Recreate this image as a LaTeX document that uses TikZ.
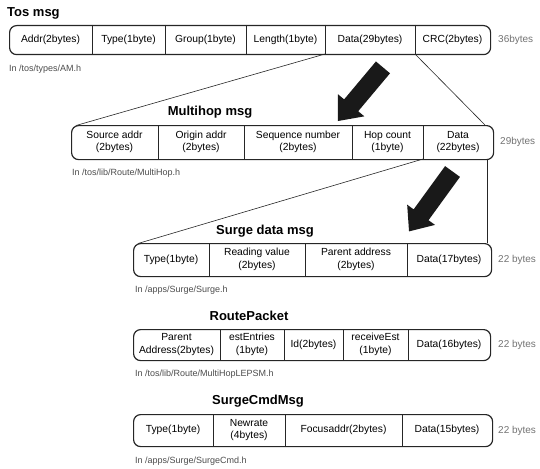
\documentclass[tikz,border=0pt]{standalone}
\usepackage{fontspec}
\setmainfont{Liberation Sans}
\usetikzlibrary{shapes.arrows}
\begin{document}
\begin{tikzpicture}[x=1pt,y=-1pt,
  rowbox/.style={draw=black!85, line width=1.2pt, rounded corners=7pt, inner sep=0pt, anchor=north west},
  cell/.style={font=\fontsize{10.3}{12.5}\selectfont, align=center, inner sep=0pt},
  ttl/.style={font=\bfseries\fontsize{13}{15}\selectfont, inner sep=0pt},
  src/.style={font=\fontsize{9}{10}\selectfont, text=black!70, anchor=west, inner sep=0pt},
  size/.style={font=\fontsize{10}{11}\selectfont, text=black!55, anchor=west, inner sep=0pt},
  divl/.style={draw=black!85, line width=0.8pt},
  conn/.style={draw=black!85, line width=0.6pt},
  bigarrow/.style={single arrow, fill=black!90, inner sep=9pt, single arrow head extend=8pt, single arrow tip angle=80, minimum height=70pt}
]
\path[use as bounding box] (0,0) rectangle (540,468);

% ---------------- Tos msg ----------------
\node[ttl, anchor=west] (tostitle) at (7,13) {Tos msg};
\node[rowbox, minimum width=481pt, minimum height=29pt] (tos) at (9,25) {};
\foreach \x in {92,165,246,325,415} \draw[divl] (\x,25) -- (\x,54);
\node[cell] (tos1) at (50.5,39.5) {Addr(2bytes)};
\node[cell] (tos2) at (128.5,39.5) {Type(1byte)};
\node[cell] (tos3) at (205.5,39.5) {Group(1byte)};
\node[cell] (tos4) at (285.5,39.5) {Length(1byte)};
\node[cell] (tos5) at (370,39.5) {Data(29bytes)};
\node[cell] (tos6) at (452.5,39.5) {CRC(2bytes)};
\node[size] (tossize) at (498,40) {36bytes};
\node[src] (tossrc) at (9,69) {In /tos/types/AM.h};

% ---------------- Multihop msg ----------------
\node[ttl] (mhtitle) at (210,112) {Multihop msg};
\node[rowbox, minimum width=422pt, minimum height=34pt] (mh) at (71,125) {};
\foreach \x in {158,244,352,423} \draw[divl] (\x,125) -- (\x,159);
\node[cell] (mh1) at (114.5,142) {Source addr\\(2bytes)};
\node[cell] (mh2) at (201,142) {Origin addr\\(2bytes)};
\node[cell] (mh3) at (298,142) {Sequence number\\(2bytes)};
\node[cell] (mh4) at (387.5,142) {Hop count\\(1byte)};
\node[cell] (mh5) at (458,142) {Data\\(22bytes)};
\node[size] (mhsize) at (500,142) {29bytes};
\node[src] (mhsrc) at (72,173) {In /tos/lib/Route/MultiHop.h};

% ---------------- Surge data msg ----------------
\node[ttl] (sgtitle) at (265,231) {Surge data msg};
\node[rowbox, minimum width=358pt, minimum height=33pt] (sg) at (133,243) {};
\foreach \x in {209,305,407} \draw[divl] (\x,243) -- (\x,276);
\node[cell] (sg1) at (171,259.5) {Type(1byte)};
\node[cell] (sg2) at (257,259.5) {Reading value\\(2bytes)};
\node[cell] (sg3) at (356,259.5) {Parent address\\(2bytes)};
\node[cell] (sg4) at (449,259.5) {Data(17bytes)};
\node[size] (sgsize) at (498,260) {22 bytes};
\node[src] (sgsrc) at (135,290) {In /apps/Surge/Surge.h};

% ---------------- RoutePacket ----------------
\node[ttl] (rptitle) at (249,316) {RoutePacket};
\node[rowbox, minimum width=357pt, minimum height=31pt] (rp) at (133,329) {};
\foreach \x in {220,284,343,408} \draw[divl] (\x,329) -- (\x,360);
\node[cell] (rp1) at (176.5,344.5) {Parent\\Address(2bytes)};
\node[cell] (rp2) at (252,344.5) {estEntries\\(1byte)};
\node[cell] (rp3) at (313.5,344.5) {Id(2bytes)};
\node[cell] (rp4) at (375.5,344.5) {receiveEst\\(1byte)};
\node[cell] (rp5) at (449,344.5) {Data(16bytes)};
\node[size] (rpsize) at (498,345) {22 bytes};
\node[src] (rpsrc) at (135,374) {In /tos/lib/Route/MultiHopLEPSM.h};

% ---------------- SurgeCmdMsg ----------------
\node[ttl] (cmtitle) at (258,401) {SurgeCmdMsg};
\node[rowbox, minimum width=359pt, minimum height=32pt] (cm) at (133,414) {};
\foreach \x in {213,285,402} \draw[divl] (\x,414) -- (\x,446);
\node[cell] (cm1) at (173,430) {Type(1byte)};
\node[cell] (cm2) at (249,430) {Newrate\\(4bytes)};
\node[cell] (cm3) at (343.5,430) {Focusaddr(2bytes)};
\node[cell] (cm4) at (447,430) {Data(15bytes)};
\node[size] (cmsize) at (498,431) {22 bytes};
\node[src] (cmsrc) at (135,461) {In /apps/Surge/SurgeCmd.h};

% ---------------- connectors ----------------
\coordinate (tosL) at (325,54);
\coordinate (tosR) at (415,54);
\coordinate (mhNW) at (76,125.5);
\coordinate (mhNE) at (485,125);
\coordinate (mhL) at (423,159);
\coordinate (mhR) at (487,159);
\coordinate (sgNW) at (138,243.5);
\coordinate (sgNE) at (487,243);
\draw[conn] (tosL) -- (mhNW);
\draw[conn] (tosR) -- (mhNE);
\draw[conn] (mhL) -- (sgNW);
\draw[conn] (mhR) -- (sgNE);

% ---------------- block arrows ----------------
\node[bigarrow, rotate=230] (arr1) at (364,90) {};
\node[bigarrow, rotate=234, minimum height=74pt] (arr2) at (434,197) {};
\end{tikzpicture}
\end{document}
